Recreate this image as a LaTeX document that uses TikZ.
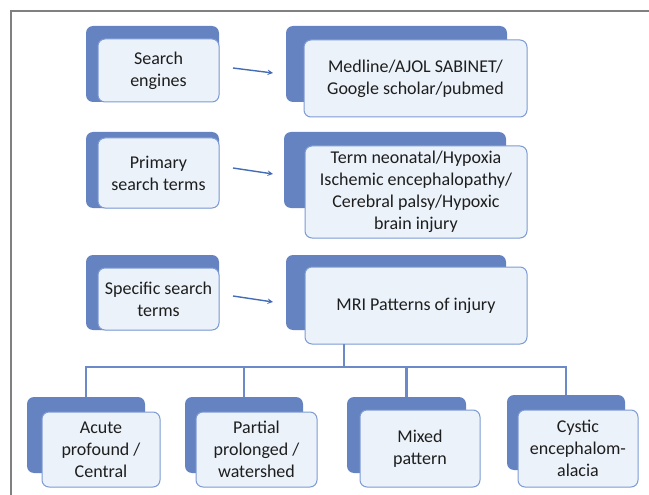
\documentclass[tikz,border=0pt]{standalone}
\usepackage{fontspec}
\setmainfont{Carlito}
\usepackage{xcolor}
\definecolor{boxback}{RGB}{101,131,193}
\definecolor{boxfill}{RGB}{235,242,250}
\definecolor{boxline}{RGB}{125,155,212}
\definecolor{linkblue}{RGB}{108,138,200}
\definecolor{arrowblue}{RGB}{68,108,180}
\definecolor{framegray}{RGB}{128,128,128}
\definecolor{textgray}{RGB}{30,30,30}

\begin{document}
\begin{tikzpicture}[x=1pt,y=-1pt,>=stealth,
    back box/.style={fill=boxback,rounded corners=7pt,inner sep=0pt,outer sep=0pt},
    front box/.style={fill=boxfill,draw=boxline,line width=1pt,rounded corners=7pt,align=center,inner sep=2pt,outer sep=0pt,text=textgray,font=\fontsize{18}{22}\selectfont},
    link/.style={draw=linkblue,line width=2.2pt},
    arrow/.style={->,draw=arrowblue,line width=1.4pt,shorten >=0pt}]
            \useasboundingbox (0,0) rectangle (649,495);
            \draw[framegray,line width=1.5pt] (11,495) -- (11,11) -- (649,11);

            % left column
            \node[back box,minimum width=133pt,minimum height=76pt] (s1) at (152.5,64) {};
            \node[front box,minimum width=121pt,minimum height=63pt] (f1) at (158.5,70.5) {Search\\engines};
            \node[back box,minimum width=133pt,minimum height=76pt] (s2) at (152.5,170) {};
            \node[front box,minimum width=121pt,minimum height=70pt] (f2) at (158.5,173) {Primary\\search terms};
            \node[back box,minimum width=133pt,minimum height=75pt] (s3) at (152.5,292.5) {};
            \node[front box,minimum width=121pt,minimum height=62pt] (f3) at (158.5,299) {Specific search\\terms};

            % right column
            \node[back box,minimum width=221pt,minimum height=76pt] (t1) at (396.5,64) {};
            \node[front box,minimum width=223pt,minimum height=77pt] (med) at (415.5,78.5) {Medline/AJOL SABINET/\\Google scholar/pubmed};
            \node[back box,minimum width=222pt,minimum height=76pt] (t2) at (395,170) {};
            \node[front box,minimum width=222pt,minimum height=92pt] (term) at (416,192) {Term neonatal/Hypoxia\\Ischemic encephalopathy/\\Cerebral palsy/Hypoxic\\brain injury};
            \node[back box,minimum width=220pt,minimum height=75pt] (t3) at (396,292.5) {};
            \node[front box,minimum width=222pt,minimum height=77pt] (mri) at (416,305.5) {MRI Patterns of injury};

            % patterns
            \node[back box,minimum width=118pt,minimum height=76pt] (k1) at (86,435) {};
            \node[front box,minimum width=118pt,minimum height=75pt] (p1) at (101,449.5) {Acute\\profound /\\Central};
            \node[back box,minimum width=118pt,minimum height=76pt] (k2) at (244,435) {};
            \node[front box,minimum width=121pt,minimum height=75pt] (p2) at (256.5,449.5) {Partial\\prolonged /\\watershed};
            \node[back box,minimum width=119pt,minimum height=76pt] (k3) at (406.5,435) {};
            \node[front box,minimum width=120pt,minimum height=77pt] (p3) at (420,448.5) {Mixed\\pattern};
            \node[back box,minimum width=118pt,minimum height=75pt] (k4) at (566,432.5) {};
            \node[front box,minimum width=120pt,minimum height=77pt] (p4) at (578,448.5) {Cystic\\encephalom-\\alacia};

            % arrows
            \coordinate (a1) at (233,68);
            \coordinate (b1) at (273,73);
            \coordinate (a2) at (233,168);
            \coordinate (b2) at (273,174);
            \coordinate (a3) at (233,296);
            \coordinate (b3) at (273,302);
            \draw[arrow] (a1) -- (b1);
            \draw[arrow] (a2) -- (b2);
            \draw[arrow] (a3) -- (b3);

            % tree
            \coordinate (hub) at (344,367);
            \draw[link] (mri.south -| hub) -- (hub);
            \draw[link] (k1.north) |- (hub);
            \draw[link] (k2.north) |- (hub);
            \draw[link] (k3.north) |- (hub);
            \draw[link] (k4.north) |- (hub);
        \end{tikzpicture}
\end{document}
